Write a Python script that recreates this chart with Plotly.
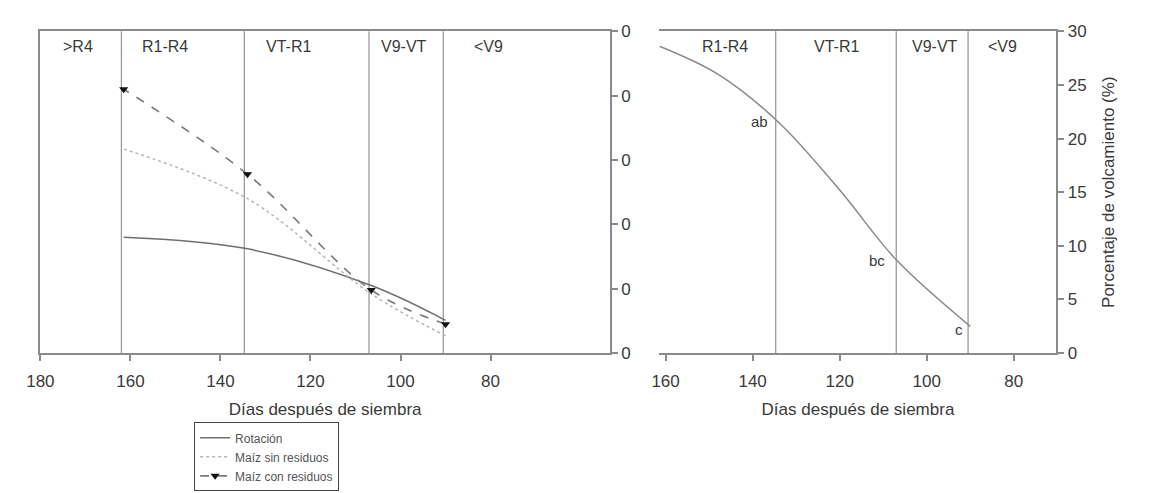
import plotly.graph_objects as go

# ---------------- data ----------------
days_left = [90, 106.5, 134, 161.5]
rotacion = [5.1, 10.5, 16.2, 18.0]
maiz_sin = [2.7, 9.2, 24.0, 31.7]
maiz_con = [4.5, 9.8, 27.8, 41.0]

days_right = [90, 107, 120, 134, 148, 161.4]
volcamiento = [2.5, 8.7, 15.2, 21.5, 26.0, 28.6]

letters = ["c", "bc", "ab"]
letter_days = [92.5, 111.5, 138.5]
letter_vals = [2.2, 8.6, 21.6]

phase_bounds = [90.5, 107, 134.7, 162]
phase_left = [">R4", "R1-R4", "VT-R1", "V9-VT", "<V9"]
phase_left_x = [171.6, 152.3, 124.8, 99.2, 80.5]
phase_right = ["R1-R4", "VT-R1", "V9-VT", "<V9"]
phase_right_x = [146.4, 120.7, 98, 82.7]

left_ticks = [180, 160, 140, 120, 100, 80]
right_ticks = [160, 140, 120, 100, 80]
left_y_ticks = [0, 10, 20, 30, 40, 50]
left_y_text = ["0", "0", "0", "0", "0", "0"]

FONT = "Liberation Sans, Arial, sans-serif"
TXT = "#3a3a3a"
AX = "#8a8a8a"

fig = go.Figure()

fig.add_trace(go.Scatter(x=days_left, y=rotacion, name="Rotación", mode="lines",
                         line=dict(color="#6f6f6f", width=1.5, shape="spline"),
                         xaxis="x", yaxis="y"))
fig.add_trace(go.Scatter(x=days_left, y=maiz_sin, name="Maíz sin residuos", mode="lines",
                         line=dict(color="#b5b5b5", width=1.5, dash="dot", shape="spline"),
                         xaxis="x", yaxis="y"))
fig.add_trace(go.Scatter(x=days_left, y=maiz_con, name="Maíz con residuos", mode="lines+markers",
                         line=dict(color="#7a7a7a", width=1.6, dash="dash", shape="spline"),
                         marker=dict(symbol="triangle-down", size=8, color="#111"),
                         xaxis="x", yaxis="y"))
fig.add_trace(go.Scatter(x=days_right, y=volcamiento, mode="lines", showlegend=False,
                         line=dict(color="#8a8a8a", width=1.5, shape="spline", smoothing=1.0),
                         xaxis="x2", yaxis="y2"))

shapes = []
for b in phase_bounds:
    shapes.append(dict(type="line", xref="x", yref="y domain", x0=b, x1=b, y0=0, y1=1,
                       line=dict(color="#9a9a9a", width=1.3), layer="below"))
for b in phase_bounds[:3]:
    shapes.append(dict(type="line", xref="x2", yref="y2 domain", x0=b, x1=b, y0=0, y1=1,
                       line=dict(color="#9a9a9a", width=1.3), layer="below"))

annotations = []
for t, x in zip(phase_left, phase_left_x):
    annotations.append(dict(text=t, x=x, y=47.6, xref="x", yref="y", showarrow=False,
                            font=dict(size=16, color=TXT, family=FONT)))
for t, x in zip(phase_right, phase_right_x):
    annotations.append(dict(text=t, x=x, y=28.55, xref="x2", yref="y2", showarrow=False,
                            font=dict(size=16, color=TXT, family=FONT)))
for t, x, y in zip(letters, letter_days, letter_vals):
    annotations.append(dict(text=t, x=x, y=y, xref="x2", yref="y2", showarrow=False,
                            font=dict(size=15, color=TXT, family=FONT)))

axis_common = dict(showgrid=False, zeroline=False, showline=True, linecolor=AX, linewidth=2,
                   ticks="outside", ticklen=6, tickcolor=AX, tickwidth=1.5,
                   tickfont=dict(size=17, color=TXT, family=FONT))

fig.update_layout(
    width=1176, height=493,
    margin=dict(l=0, r=0, t=0, b=0),
    paper_bgcolor="white", plot_bgcolor="white",
    font=dict(family=FONT, color=TXT),
    showlegend=True,
    legend=dict(x=0.155, y=0.128, xanchor="left", yanchor="top",
                bordercolor="#444", borderwidth=1, bgcolor="white",
                font=dict(size=12, color="#555", family=FONT), tracegroupgap=0),
    xaxis=dict(domain=[0.0227, 0.5128], range=[180, 53.5], anchor="y",
               tickvals=left_ticks, mirror=True, ticklabelstandoff=5,
               title=dict(text="Días después de siembra", font=dict(size=17, color=TXT), standoff=14),
               **axis_common),
    yaxis=dict(domain=[0.274, 0.953], range=[0, 50], anchor="x", side="right",
               tickvals=left_y_ticks, ticktext=left_y_text, mirror=True,
               **axis_common),
    xaxis2=dict(domain=[0.5555, 0.8971], range=[161.4, 70.2], anchor="y2",
                tickvals=right_ticks, mirror=True, ticklabelstandoff=5,
                title=dict(text="Días después de siembra", font=dict(size=17, color=TXT), standoff=14),
                **axis_common),
    yaxis2=dict(domain=[0.274, 0.953], range=[0, 30], anchor="x2", side="right",
                dtick=5,
                title=dict(text="Porcentaje de volcamiento (%)", font=dict(size=17, color=TXT), standoff=16),
                **axis_common),
    shapes=shapes,
    annotations=annotations,
)

fig.write_html("out.html")
